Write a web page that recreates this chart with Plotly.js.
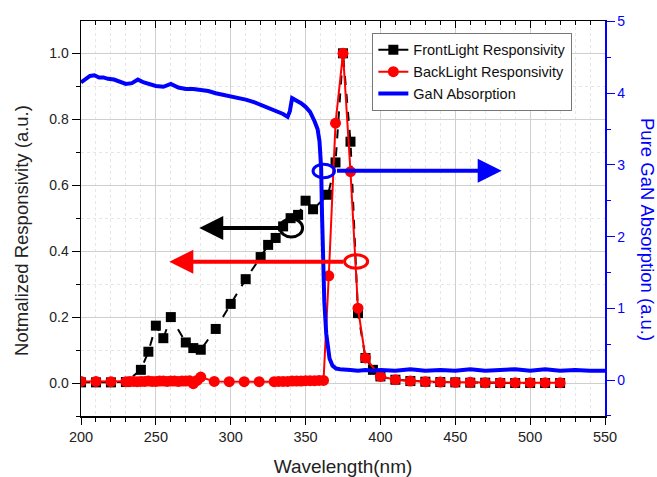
<!DOCTYPE html>
<html><head><meta charset="utf-8">
<script src="https://cdn.plot.ly/plotly-3.0.1.min.js"></script>
<style>html,body{margin:0;padding:0;background:#fff}</style>
</head><body><div id="chart" style="width:657px;height:477px"></div>
<script>
// FrontLight responsivity (left axis)
const frontX = [200,210,220,230,240,245,250,255,260,270,275,280,290,300,310,320,325,330,335,340,345,350,355,365,370,375,380,385,390,395,400,410,420,430,440,450,460,470,480,490,500,510,520];
const frontY = [0.002,0.002,0.002,0.003,0.04,0.095,0.174,0.136,0.2,0.123,0.106,0.101,0.164,0.24,0.315,0.382,0.419,0.44,0.475,0.5,0.51,0.553,0.527,0.571,0.669,1.0,0.732,0.212,0.076,0.04,0.02,0.01,0.006,0.004,0.003,0.002,0.001,0.001,0.0,0.0,0.0,0.0,0.0];
// BackLight responsivity (left axis)
const backX = [200,210,220,230,232.5,235,237.5,240,242.5,245,247.5,250,252.5,255,257.5,260,262.5,265,267.5,270,272.5,275,277.5,280,289,299,309,319,329,332,335,338,341,344,347,350,353,356,359,362,365.5,370,375,380,385,390,400,410,420,430,440,450,460,470,480,490,500,510,520];
const backY = [0.005,0.005,0.004,0.004,0.005,0.005,0.004,0.005,0.005,0.006,0.005,0.005,0.006,0.006,0.005,0.006,0.006,0.005,0.006,0.006,0.007,-0.002,0.008,0.018,0.005,0.004,0.004,0.004,0.004,0.005,0.005,0.005,0.006,0.006,0.006,0.007,0.007,0.007,0.008,0.008,0.325,0.788,1.0,0.641,0.227,0.076,0.02,0.01,0.006,0.004,0.003,0.002,0.002,0.001,0.001,0.001,0.001,0.001,0.001];
// Pure GaN absorption (right axis)
const absX = [200,203,206,209,212,215,218,222,226,230,234,238,242,246,250,255,260,265,270,275,280,285,290,295,300,305,310,315,320,325,330,335,338,339.5,341,344,347,350,353,356,358,359.3,360.4,361,361.6,362.5,363.8,366,368,370.4,373,376,380,385,390,395,400,410,420,430,440,450,460,470,480,490,500,510,520,530,540,550];
const absY = [4.15,4.2,4.24,4.25,4.22,4.22,4.2,4.19,4.16,4.13,4.14,4.19,4.15,4.12,4.1,4.09,4.13,4.08,4.06,4.06,4.05,4.03,4.0,3.98,3.96,3.93,3.91,3.88,3.84,3.8,3.76,3.71,3.67,3.75,3.93,3.9,3.86,3.81,3.74,3.61,3.5,3.33,2.96,2.3,1.57,1.1,0.65,0.3,0.2,0.16,0.15,0.14,0.14,0.13,0.14,0.13,0.14,0.13,0.15,0.13,0.14,0.13,0.15,0.13,0.14,0.15,0.13,0.15,0.13,0.14,0.13,0.13];

const seriesNames = ['FrontLight Responsivity','BackLight Responsivity','GaN Absorption'];
const xTitle = 'Wavelength(nm)';
const yTitle = 'Notmalized Responsivity (a.u.)';
const y2Title = 'Pure GaN Absorption (a.u.)';

// indicator arrows: [tailX, tipX, y, color, axis]
const arrowSpecs = [
  [334, 279, 0.47, 'black', 'y'],
  [376, 259, 0.368, 'red', 'y'],
  [370, 481, 2.92, 'blue', 'y2']
];
// indicator ellipses: [x0, x1, y0, y1, color, axis]
const ellipseSpecs = [
  [333, 348, 0.443, 0.498, 'black', 'y'],
  [376, 391.5, 0.348, 0.389, 'red', 'y'],
  [355, 369.3, 2.82, 3.01, 'blue', 'y2']
];

const font = 'Arial, "Liberation Sans", sans-serif';
const traces = [
  {x: frontX, y: frontY, type: 'scatter', mode: 'lines+markers', name: seriesNames[0], showlegend: false,
   line: {color: 'black', width: 2, dash: 'dash'}, marker: {symbol: 'square', size: 10, color: 'black'}},
  {x: [null], y: [null], type: 'scatter', mode: 'lines+markers', name: seriesNames[0],
   line: {color: 'black', width: 2}, marker: {symbol: 'square', size: 10, color: 'black'}},
  {x: backX, y: backY, type: 'scatter', mode: 'lines+markers', name: seriesNames[1],
   line: {color: 'red', width: 2}, marker: {symbol: 'circle', size: 11, color: 'red'}},
  {x: absX, y: absY, type: 'scatter', mode: 'lines', name: seriesNames[2], xaxis: 'x2', yaxis: 'y2',
   line: {color: 'blue', width: 4}}
];

const annotations = arrowSpecs.map(a => ({
  x: a[1], y: a[2], ax: a[0], ay: a[2],
  xref: a[4] === 'y2' ? 'x2' : 'x', yref: a[4], axref: a[4] === 'y2' ? 'x2' : 'x', ayref: a[4],
  text: '', showarrow: true, arrowhead: 2, arrowsize: 1.2, arrowwidth: 4, arrowcolor: a[3], standoff: 0
}));
annotations.push({
  text: y2Title, xref: 'paper', yref: 'paper', x: 1.08, y: 0.471, xanchor: 'center', yanchor: 'middle',
  showarrow: false, textangle: 90, font: {family: font, size: 18.5, color: 'blue'}
});
annotations.push({
  text: yTitle, xref: 'paper', yref: 'paper', x: -0.1126, y: 0.471, xanchor: 'center', yanchor: 'middle',
  showarrow: false, textangle: -90, font: {family: font, size: 18.5, color: '#222'}
});

const shapes = ellipseSpecs.map(e => ({
  type: 'circle', xref: e[5] === 'y2' ? 'x2' : 'x', yref: e[5],
  x0: e[0], x1: e[1], y0: e[2], y1: e[3], line: {color: e[4], width: 3}, layer: 'above'
}));

const layout = {
  width: 657, height: 477,
  margin: {l: 81, r: 52, t: 21, b: 61},
  paper_bgcolor: 'white', plot_bgcolor: 'white',
  font: {family: font, size: 14, color: '#222'},
  showlegend: true,
  legend: {x: 0.556, y: 0.97, xanchor: 'left', yanchor: 'top', bgcolor: 'white',
    bordercolor: '#777', borderwidth: 1, font: {family: font, size: 14.5, color: '#111'}, tracegroupgap: 0},
  xaxis: {range: [200, 550], dtick: 50, tick0: 200, ticks: 'outside', ticklen: 7, tickcolor: 'black',
    showline: true, linecolor: 'black', linewidth: 1.5, zeroline: false,
    showgrid: true, gridcolor: '#cfcfcf', gridwidth: 1,
    minor: {dtick: 10, ticks: 'outside', ticklen: 4, tickcolor: 'black', showgrid: true, gridcolor: '#e6e6e6', griddash: 'dot'},
    title: {text: xTitle, font: {family: font, size: 19, color: '#222'}, standoff: 17},
    tickfont: {family: font, size: 14.5, color: '#222'}},
  xaxis2: {range: [200, 550], overlaying: 'x', side: 'top', anchor: 'y2', dtick: 50, tick0: 200,
    ticks: 'inside', ticklen: 7, tickcolor: 'black', showticklabels: false,
    showline: true, linecolor: 'black', linewidth: 1.5, showgrid: false, zeroline: false,
    minor: {dtick: 10, ticks: 'inside', ticklen: 4, tickcolor: 'black', showgrid: false}},
  yaxis: {range: [-0.10, 1.098], dtick: 0.2, tick0: 0, tickformat: '.1f', ticks: 'outside', ticklen: 8,
    tickcolor: 'black', showline: true, linecolor: 'black', linewidth: 1.5, zeroline: false,
    showgrid: true, gridcolor: '#cfcfcf', gridwidth: 1,
    minor: {dtick: 0.1, ticks: 'outside', ticklen: 4, tickcolor: 'black', showgrid: true, gridcolor: '#e6e6e6', griddash: 'dot'},
    tickfont: {family: font, size: 14, color: '#222'}},
  yaxis2: {range: [-0.502, 5.007], overlaying: 'y', side: 'right', anchor: 'x2', dtick: 1, tick0: 0,
    ticks: 'outside', ticklen: 8, tickcolor: 'blue', showline: true, linecolor: 'blue', linewidth: 1.5,
    showgrid: false, zeroline: false,
    minor: {dtick: 0.5, ticks: 'outside', ticklen: 4, tickcolor: 'blue', showgrid: false},
    tickfont: {family: font, size: 14, color: 'blue'}},
  annotations: annotations,
  shapes: shapes
};

Plotly.newPlot('chart', traces, layout, {displayModeBar: false, staticPlot: true});
</script>
</body></html>
